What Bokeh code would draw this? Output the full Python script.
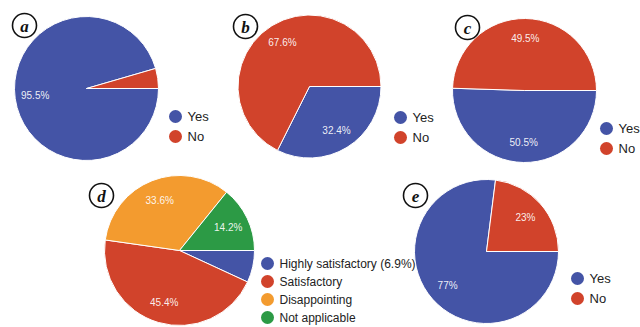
import numpy as np
from bokeh.plotting import figure
from bokeh.models import Range1d, ColumnDataSource
from bokeh.core.properties import value
from bokeh.embed import file_html
from bokeh.resources import INLINE

W, H = 640, 327

# ---- data ----
a_labels = ["Yes", "No"]
a_values = [95.5, 4.5]
b_labels = ["Yes", "No"]
b_values = [32.4, 67.6]
c_labels = ["Yes", "No"]
c_values = [50.5, 49.5]
d_labels = ["Highly satisfactory (6.9%)", "Satisfactory", "Disappointing", "Not applicable"]
d_values = [6.9, 45.4, 33.6, 14.2]
e_labels = ["Yes", "No"]
e_values = [77, 23]

yes_no_colors = ["#4454A6", "#D1432B"]
d_colors = ["#4454A6", "#D1432B", "#F39B2F", "#2C9A45"]

# ---- layout (pixel coordinates, y measured from top) ----
panels = [
    dict(letter="a", labels=a_labels, values=a_values, colors=yes_no_colors,
         cx=86, cy=88, r=72, lx=175, ly=116, gap=20, fs="13px", tx=24, ty=25),
    dict(letter="b", labels=b_labels, values=b_values, colors=yes_no_colors,
         cx=309, cy=86, r=71.5, lx=400, ly=117, gap=20, fs="13px", tx=245, ty=26),
    dict(letter="c", labels=c_labels, values=c_values, colors=yes_no_colors,
         cx=524, cy=90, r=72, lx=606, ly=128, gap=20, fs="13px", tx=467, ty=27),
    dict(letter="d", labels=d_labels, values=d_values, colors=d_colors,
         cx=179, cy=250, r=75, lx=267, ly=263, gap=18, fs="12px", tx=101, ty=195),
    dict(letter="e", labels=e_labels, values=e_values, colors=yes_no_colors,
         cx=486, cy=251, r=72, lx=577, ly=278, gap=20, fs="13px", tx=415, ty=195),
]

p = figure(width=W, height=H, x_range=Range1d(0, W), y_range=Range1d(0, H),
           output_backend="svg", toolbar_location=None,
           x_axis_location=None, y_axis_location=None,
           min_border=0, min_border_left=0, min_border_right=0,
           min_border_top=0, min_border_bottom=0)
p.grid.visible = False
p.outline_line_color = None
p.background_fill_color = "white"
p.border_fill_color = "white"

def Y(y):
    return H - y

for pn in panels:
    vals = np.array(pn["values"], dtype=float)
    frac = vals / vals.sum()
    cum = np.concatenate([[0], np.cumsum(frac)])
    start = -2 * np.pi * cum[:-1]
    end = -2 * np.pi * cum[1:]
    n = len(vals)
    src = ColumnDataSource(dict(x=[pn["cx"]] * n, y=[Y(pn["cy"])] * n,
                                start=start, end=end, color=pn["colors"]))
    p.wedge(x="x", y="y", radius=pn["r"], start_angle="start", end_angle="end",
            direction="clock", fill_color="color", line_color="white",
            line_width=1, source=src)

    # slice labels
    mid = (start + end) / 2
    lx, ly, lt = [], [], []
    for v, m in zip(vals, mid):
        if v < 7:
            continue
        lx.append(pn["cx"] + 0.72 * pn["r"] * np.cos(m))
        ly.append(Y(pn["cy"]) + 0.72 * pn["r"] * np.sin(m))
        lt.append(f"{v:g}%")
    p.text(x=lx, y=ly, text=lt, text_color="white", text_alpha=0.92,
           text_font=value("Liberation Sans"), text_font_size="10px",
           text_align="center", text_baseline="middle")

    # legend
    ys = [Y(pn["ly"] + i * pn["gap"]) for i in range(n)]
    p.scatter(x=[pn["lx"]] * n, y=ys, size=13, fill_color=pn["colors"],
              line_color=None)
    p.text(x=[pn["lx"] + 12] * n, y=ys, text=pn["labels"], text_color="#222222",
           text_font=value("Liberation Sans"), text_font_size=pn["fs"],
           text_align="left", text_baseline="middle")

    # panel letter
    p.scatter(x=[pn["tx"]], y=[Y(pn["ty"])], size=24, fill_color="white",
              line_color="#111111", line_width=1.6)
    p.text(x=[pn["tx"]], y=[Y(pn["ty"]) - 0.5], text=[pn["letter"]],
           text_color="#111111", text_font=value("Liberation Serif"),
           text_font_style="bold italic", text_font_size="17px",
           text_align="center", text_baseline="middle")

open("out.html", "w").write(file_html(p, INLINE))
